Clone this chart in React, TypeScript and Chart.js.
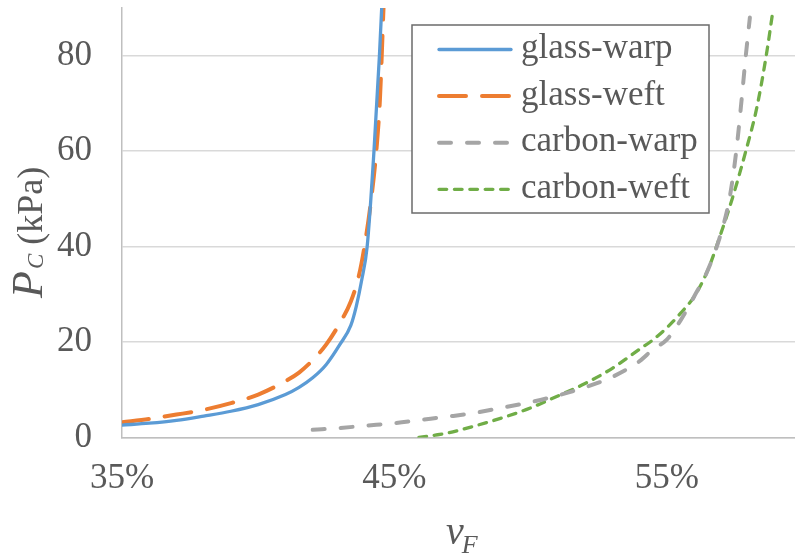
import React, { useEffect, useRef } from 'react';
import { Chart, registerables } from 'chart.js';

Chart.register(...registerables);

// ---- data (x in %, y in kPa) ----
const glassWarpX = [35, 36, 37, 38, 39, 40, 41, 41.5, 42, 42.5, 43, 43.4, 43.6, 43.8, 44.0, 44.25, 44.45, 44.55];
const glassWarpY = [2.6, 3.0, 3.6, 4.5, 5.5, 6.9, 9.0, 10.5, 12.5, 15.3, 19.5, 23.5, 27.5, 33, 40, 60, 80, 92];

const glassWeftX = [35, 36, 37, 38, 39, 40, 41, 41.5, 42, 42.5, 43, 43.4, 43.7, 43.9, 44.15, 44.35, 44.47, 44.6];
const glassWeftY = [3.2, 3.9, 4.8, 5.8, 7.2, 9.0, 11.8, 13.6, 16.2, 19.5, 24, 28.5, 34, 40, 50, 61, 71, 90];

const carbonWarpX = [42, 43, 44, 45, 46, 47, 48, 49, 50, 51, 52, 53, 54, 54.5, 55, 55.5, 56, 56.5, 57, 57.3, 57.55, 57.75, 57.9, 58.05];
const carbonWarpY = [1.6, 2.0, 2.5, 3.0, 3.7, 4.4, 5.2, 6.3, 7.4, 8.8, 10.5, 12.7, 16.0, 18.5, 20.5, 24.5, 29.5, 35, 43, 50, 60, 71, 80, 88];

const carbonWeftX = [45.9, 46.5, 47, 48, 49, 50, 51, 52, 53, 54, 54.5, 55, 55.5, 56, 56.5, 57, 57.4, 57.9, 58.3, 58.65, 58.9];
const carbonWeftY = [0, 0.5, 1.0, 2.5, 4.2, 6.2, 8.7, 11.3, 14.5, 18.5, 20.5, 23, 26, 29.5, 35, 43, 50, 60, 69, 80, 89.6];

const seriesLabels = ['glass-warp', 'glass-weft', 'carbon-warp', 'carbon-weft'];
const xTickValues = [35, 45, 55];
const yTickValues = [0, 20, 40, 60, 80];

const TEXT = '#595959';
const SERIF = '"Liberation Serif", "Times New Roman", serif';

function pts(xs: number[], ys: number[]) {
  return xs.map((x, i) => ({ x, y: ys[i] }));
}

const boxLegend = {
  id: 'boxLegend',
  afterDraw(chart: any) {
    const ctx = chart.ctx as CanvasRenderingContext2D;
    ctx.save();
    const bx = 412, by = 25, bw = 297, bh = 188;
    ctx.fillStyle = '#ffffff';
    ctx.fillRect(bx, by, bw, bh);
    ctx.strokeStyle = '#6b6b6b';
    ctx.lineWidth = 1.5;
    ctx.setLineDash([]);
    ctx.strokeRect(bx, by, bw, bh);
    chart.data.datasets.forEach((ds: any, i: number) => {
      const y = 49.5 + i * 46.6;
      ctx.beginPath();
      ctx.setLineDash(ds.borderDash || []);
      ctx.lineCap = 'round';
      ctx.strokeStyle = ds.borderColor;
      ctx.lineWidth = ds.borderWidth;
      ctx.moveTo(439, y);
      ctx.lineTo(511, y);
      ctx.stroke();
      ctx.setLineDash([]);
      ctx.fillStyle = TEXT;
      ctx.font = `35px ${SERIF}`;
      ctx.textBaseline = 'alphabetic';
      ctx.textAlign = 'left';
      ctx.fillText(ds.label, 521, y + 8.5);
    });
    ctx.restore();
  },
};

const axisTitles = {
  id: 'axisTitles',
  afterDraw(chart: any) {
    const ctx = chart.ctx as CanvasRenderingContext2D;
    ctx.save();
    ctx.fillStyle = TEXT;
    ctx.textBaseline = 'alphabetic';
    ctx.textAlign = 'left';
    // y title: P_C (kPa), rotated
    ctx.translate(42, 298);
    ctx.rotate(-Math.PI / 2);
    let x = 0;
    ctx.font = `italic 44px ${SERIF}`;
    ctx.fillText('P', x, 0);
    x += ctx.measureText('P').width + 2;
    ctx.font = `italic 23px ${SERIF}`;
    ctx.fillText('C', x, 1);
    x += ctx.measureText('C').width;
    ctx.font = `36px ${SERIF}`;
    ctx.fillText(' (kPa)', x, 0);
    ctx.restore();

    // x title: v_F
    ctx.save();
    ctx.fillStyle = TEXT;
    ctx.textBaseline = 'alphabetic';
    ctx.textAlign = 'left';
    ctx.font = `italic 40px ${SERIF}`;
    ctx.fillText('v', 446, 544);
    const vw = ctx.measureText('v').width;
    ctx.font = `italic 26px ${SERIF}`;
    ctx.fillText('F', 446 + vw - 2, 553);
    ctx.restore();
  },
};

export default function App() {
  const ref = useRef<HTMLCanvasElement | null>(null);

  useEffect(() => {
    if (!ref.current) return;
    const chart = new Chart(ref.current, {
      type: 'line',
      data: {
        datasets: [
          {
            label: seriesLabels[0],
            data: pts(glassWarpX, glassWarpY),
            borderColor: '#5B9BD5',
            borderWidth: 3.3,
            borderCapStyle: 'round',
            borderJoinStyle: 'round',
          },
          {
            label: seriesLabels[1],
            data: pts(glassWeftX, glassWeftY),
            borderColor: '#ED7D31',
            borderWidth: 4,
            borderDash: [27, 16],
            borderCapStyle: 'round',
            borderJoinStyle: 'round',
          },
          {
            label: seriesLabels[2],
            data: pts(carbonWarpX, carbonWarpY),
            borderColor: '#A5A5A5',
            borderWidth: 4,
            borderDash: [12, 16],
            borderCapStyle: 'round',
            borderJoinStyle: 'round',
          },
          {
            label: seriesLabels[3],
            data: pts(carbonWeftX, carbonWeftY),
            borderColor: '#70AD47',
            borderWidth: 3.3,
            borderDash: [7.7, 7.7],
            borderCapStyle: 'round',
            borderJoinStyle: 'round',
          },
        ] as any,
      },
      options: {
        animation: false,
        responsive: false,
        devicePixelRatio: 1,
        layout: { padding: { top: 8, left: 0, right: 0, bottom: 0 } },
        elements: {
          point: { radius: 0, hoverRadius: 0 },
          line: { cubicInterpolationMode: 'monotone', fill: false },
        },
        plugins: {
          legend: { display: false },
          tooltip: { enabled: false },
        },
        scales: {
          x: {
            type: 'linear',
            min: 35,
            max: 60,
            afterBuildTicks: (s: any) => {
              s.ticks = xTickValues.map((v) => ({ value: v }));
            },
            afterFit: (s: any) => {
              s.height = 119.5;
              s.paddingLeft = 0;
              s.paddingRight = 0;
            },
            grid: { display: false, drawTicks: false },
            border: { display: true, color: '#BFBFBF', width: 1.5 },
            ticks: {
              callback: (v: any) => `${v}%`,
              font: { family: SERIF, size: 35 },
              color: TEXT,
              padding: 20,
              maxRotation: 0,
              autoSkip: false,
            },
          },
          y: {
            type: 'linear',
            min: 0,
            max: 90,
            afterBuildTicks: (s: any) => {
              s.ticks = yTickValues.map((v) => ({ value: v }));
            },
            afterFit: (s: any) => {
              s.width = 122;
              s.paddingTop = 0;
              s.paddingBottom = 0;
            },
            grid: { color: '#D9D9D9', lineWidth: 1.5, drawTicks: false },
            border: { display: true, color: '#BFBFBF', width: 1.5 },
            ticks: {
              font: { family: SERIF, size: 35 },
              color: TEXT,
              padding: 30,
              autoSkip: false,
            },
          },
        },
      } as any,
      plugins: [boxLegend, axisTitles],
    });
    return () => chart.destroy();
  }, []);

  return (
    <div style={{ position: 'fixed', left: 0, top: 0, width: 795, height: 557, overflow: 'hidden', background: '#fff' }}>
      <canvas ref={ref} width={803} height={557} style={{ display: 'block' }} />
    </div>
  );
}
